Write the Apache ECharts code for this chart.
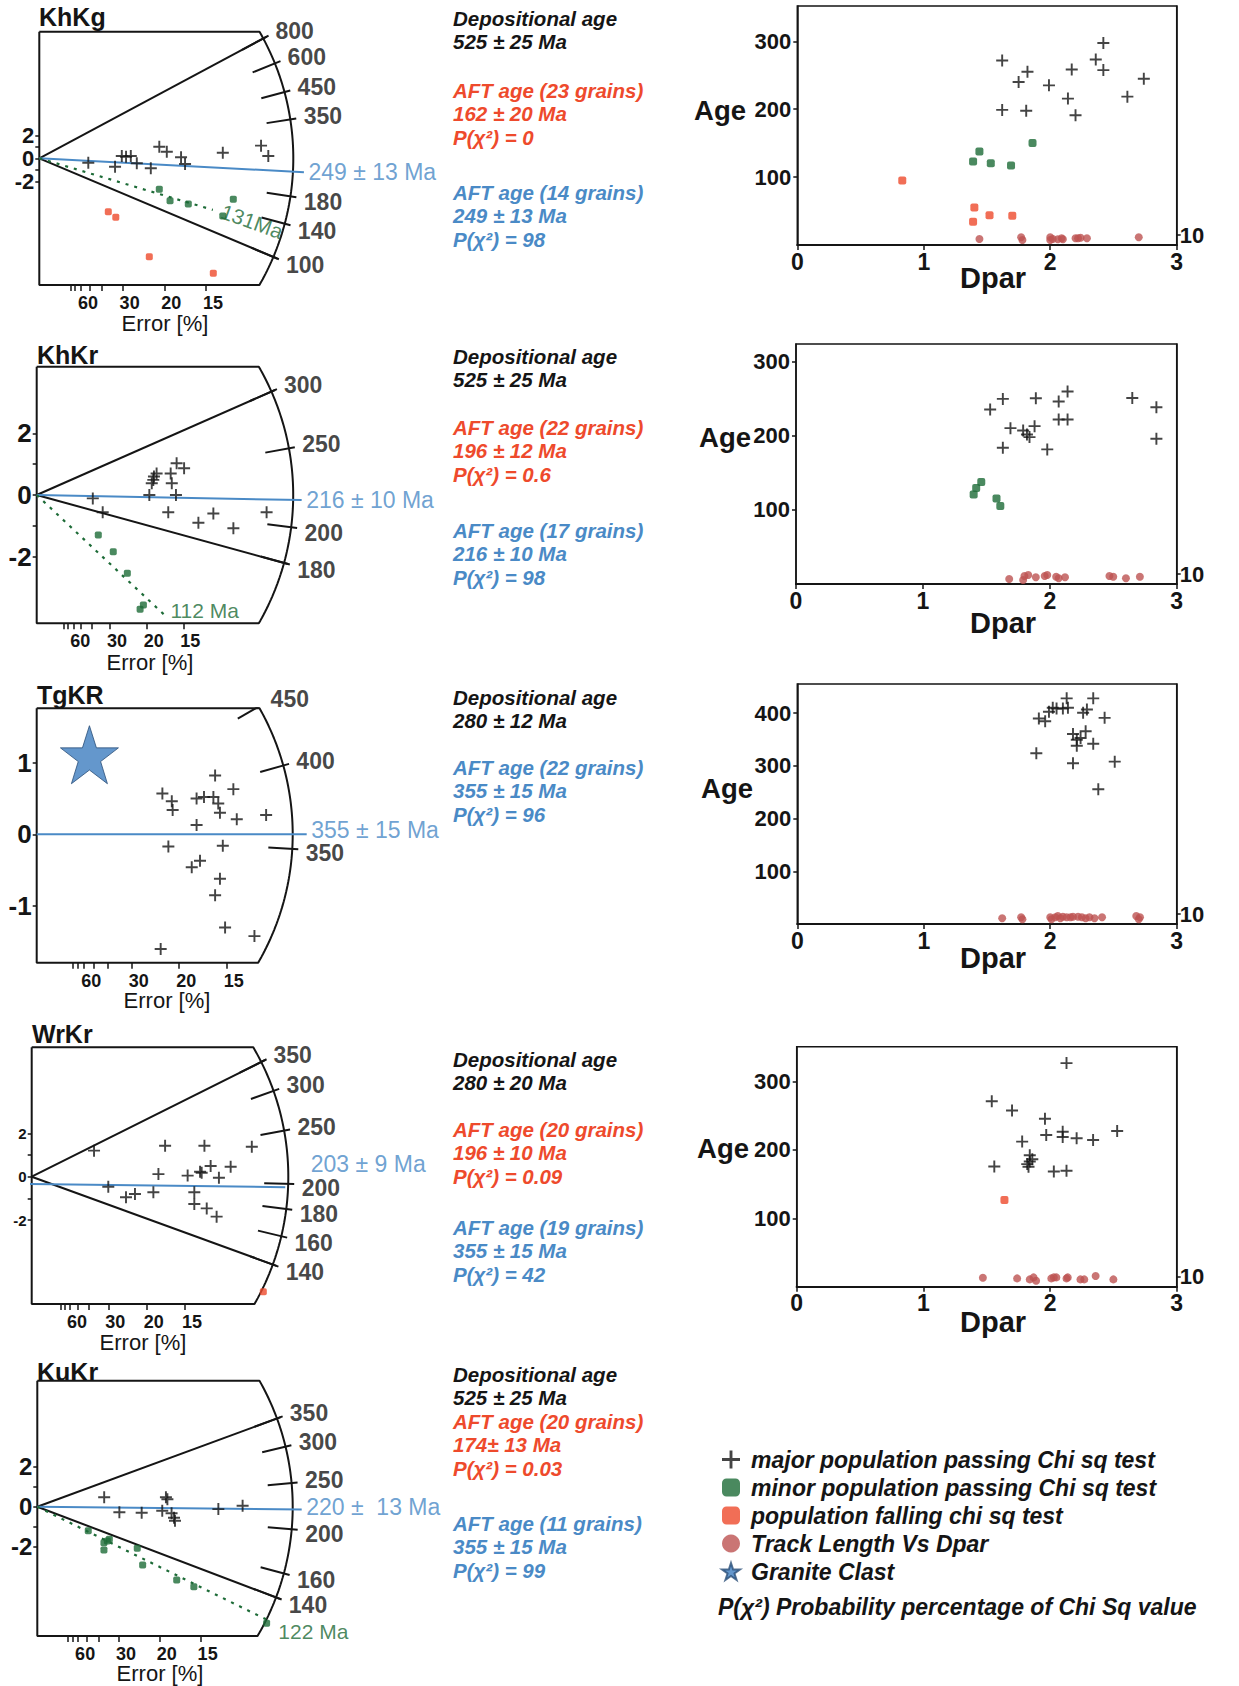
<!DOCTYPE html>
<html><head><meta charset="utf-8">
<script src="https://cdn.jsdelivr.net/npm/echarts@6/dist/echarts.min.js"></script>
<style>html,body{margin:0;padding:0;background:#fff}#c{width:1239px;height:1686px}</style>
</head><body><div id="c"></div><script>
// ================= DATA =================
const radialTitles = ['KhKg','KhKr','TgKR','WrKr','KuKr'];
const radialRefAges = [250,219,358,206,223];           // age of the horizontal (z=0) direction of each radial scale
const arcTickAges = [[800,600,450,350,180,140,100],[300,250,200,180],[450,400,350],[350,300,250,200,180,160,140],[350,300,250,200,160,140]];
const boundaryAges = [[800,100],[300,180],[],[350,140],[350,140]];
const centralLabels = ['249 ± 13 Ma','216 ± 10 Ma','355 ± 15 Ma','203 ± 9 Ma','220 ±  13 Ma'];
const centralLineAges = [223,216,358,203,220];          // where the blue line meets the arc, as drawn
const minorAges = [131,112,null,null,122];
const minorLabels = ['131Ma','112 Ma',null,null,'122 Ma'];
const errTicks = [80,70,60,50,40,30,20,15];
const errLabels = [60,30,20,15];
const zLabels = [[-2,0,2],[-2,0,2],[-1,0,1],[-2,0,2],[-2,0,2]];
const zTicks = [[-2,-1,0,1,2],[-2,-1,0,1,2],[-1,0,1],[-2,-1,0,1,2],[-2,-1,0,1,2]];

// radial plot points: [precision (1/relative error), standardised estimate]
const r1Major = [[1.96,-0.38],[3.03,-0.73],[3.30,0.20],[3.47,0.14],[3.66,0.20],[3.90,-0.43],[4.46,-0.87],[4.80,1.01],[5.10,0.57],[5.67,0.09],[5.83,-0.50],[7.34,0.49],[8.87,1.10],[9.16,0.20]];
const r1Minor = [[4.80,-2.70],[5.23,-3.69],[5.96,-3.97],[7.34,-5.02],[7.76,-3.57]];
const r1Fail  = [[2.76,-4.64],[3.06,-5.13],[4.40,-8.56],[6.96,-10.0]];
const r2Major = [[2.55,-0.11],[3.00,-0.56],[5.12,0.00],[5.23,0.38],[5.33,0.60],[5.45,0.70],[6.09,0.70],[6.14,0.38],[5.98,-0.56],[6.33,0.00],[6.36,1.03],[6.70,0.87],[7.35,-0.90],[8.03,-0.60],[8.94,-1.08],[10.45,-0.56],[5.30,0.49]];
const r2Minor = [[2.80,-1.30],[3.48,-1.84],[4.12,-2.54],[4.70,-3.71],[4.85,-3.57]];
const r3Major = [[4.41,0.57],[4.74,0.46],[4.77,0.34],[4.62,-0.17],[5.44,-0.46],[5.73,-0.37],[5.61,0.50],[5.61,0.13],[5.87,0.52],[6.20,0.52],[6.26,0.82],[6.37,0.43],[6.43,0.30],[6.53,-0.16],[6.43,-0.62],[6.26,-0.85],[6.90,0.63],[7.02,0.21],[8.05,0.27],[6.61,-1.30],[7.64,-1.42],[4.35,-1.60]];
const r3Star  = [[1.85,1.11]];
const r4Major = [[2.71,1.20],[5.80,1.43],[7.51,1.43],[9.57,1.38],[5.51,0.12],[6.78,0.05],[7.32,0.23],[7.39,0.18],[7.78,0.49],[8.14,-0.05],[8.65,0.46],[3.33,-0.46],[4.10,-0.95],[4.49,-0.80],[5.29,-0.72],[7.07,-0.72],[7.07,-1.26],[7.61,-1.46],[8.04,-1.84]];
const r4Fail  = [[10.07,-5.30]];
const r5Major = [[2.73,0.47],[3.35,-0.28],[4.26,-0.30],[5.10,-0.20],[5.25,0.47],[5.31,0.37],[5.48,-0.33],[5.58,-0.55],[5.62,-0.70],[7.39,-0.12],[8.38,0.05]];
const r5Minor = [[2.08,-1.20],[2.72,-1.80],[2.72,-2.17],[2.86,-1.72],[2.94,-1.63],[4.08,-2.08],[4.30,-2.92],[5.69,-3.67],[6.39,-4.00],[9.36,-5.83]];

// Dpar scatter plots: [Dpar, Age] and track points [Dpar, value on right axis]
const s1Major = [[1.62,271.7],[1.82,255.1],[1.75,240.0],[1.99,235.1],[1.62,199.0],[1.81,197.6],[2.17,258.5],[2.14,215.6],[2.20,191.2],[2.36,273.2],[2.42,297.6],[2.42,257.6],[2.61,218.5],[2.74,244.9]];
const s1Minor = [[1.39,122.9],[1.44,137.6],[1.53,120.5],[1.69,117.1],[1.86,150.2]];
const s1Fail  = [[0.83,95.1],[1.40,55.1],[1.39,34.1],[1.52,43.9],[1.70,42.9]];
const s1Track = [[1.44,6.0],[1.77,7.7],[1.78,5.0],[2.00,7.7],[2.00,5.0],[2.02,6.0],[2.06,5.7],[2.09,6.7],[2.10,5.7],[2.20,6.7],[2.22,6.7],[2.24,7.3],[2.29,6.7],[2.70,7.7]];
const s2Major = [[1.53,235.5],[1.63,249.9],[1.69,210.4],[1.79,207.3],[1.82,201.9],[1.84,198.3],[1.88,213.1],[1.89,250.8],[1.63,183.9],[1.98,181.7],[2.07,246.3],[2.07,222.1],[2.14,222.1],[2.14,259.8],[2.65,251.2],[2.84,238.7],[2.84,196.1]];
const s2Minor = [[1.40,120.7],[1.42,129.7],[1.46,137.7],[1.58,115.3],[1.61,105.4]];
const s2Track = [[1.68,5.0],[1.79,4.0],[1.80,8.0],[1.83,9.0],[1.89,6.7],[1.96,8.0],[1.98,9.0],[2.05,7.3],[2.07,5.7],[2.12,6.7],[2.47,8.0],[2.50,7.3],[2.60,5.7],[2.71,7.3]];
const s3Major = [[1.91,389.5],[1.96,384.4],[1.99,402.3],[2.02,410.0],[2.05,408.7],[2.10,408.7],[2.13,427.8],[2.14,410.0],[2.26,400.4],[2.29,406.8],[2.34,427.8],[2.43,390.8],[1.89,323.8],[2.18,360.2],[2.21,349.3],[2.21,337.8],[2.24,352.5],[2.28,365.3],[2.34,341.6],[2.18,304.6],[2.51,307.8],[2.38,255.4]];
const s3Track = [[1.62,5.7],[1.77,6.7],[1.78,4.7],[2.00,6.7],[2.01,4.7],[2.04,6.7],[2.06,8.0],[2.08,5.7],[2.10,7.3],[2.13,6.7],[2.16,6.7],[2.18,7.3],[2.22,7.3],[2.25,6.7],[2.28,5.7],[2.31,6.7],[2.35,5.7],[2.41,6.7],[2.68,8.0],[2.71,6.7],[2.70,4.7]];
const s4Major = [[1.54,271.3],[1.70,257.8],[1.96,245.6],[2.13,327.0],[1.78,212.2],[1.97,221.9],[2.10,226.7],[2.10,219.0],[2.21,217.1],[2.34,214.6],[2.53,227.7],[1.84,192.3],[1.84,183.1],[1.82,179.3],[1.83,175.4],[1.56,175.9],[2.03,168.6],[2.13,169.6],[1.86,186.5]];
const s4Fail  = [[1.64,126.9]];
const s4Track = [[1.47,9.0],[1.74,8.3],[1.84,7.3],[1.87,9.3],[1.89,6.0],[2.01,8.3],[2.03,9.3],[2.05,9.3],[2.13,8.3],[2.14,9.3],[2.24,7.3],[2.27,7.3],[2.36,10.7],[2.50,7.3]];
const scatterAgeTicks = [[100,200,300],[100,200,300],[100,200,300,400],[100,200,300]];
const scatterAgeMax = [352,324,455,351];
const dparTicksInterval = 1;
const trackTick = [10];

const infoTexts = [
 [{k:'dep',t:['Depositional age','525 ± 25 Ma']},{k:'fail',t:['AFT age (23 grains)','162 ± 20 Ma','P(χ²) = 0']},{k:'pass',t:['AFT age (14 grains)','249 ± 13 Ma','P(χ²) = 98']}],
 [{k:'dep',t:['Depositional age','525 ± 25 Ma']},{k:'fail',t:['AFT age (22 grains)','196 ± 12 Ma','P(χ²) = 0.6']},{k:'pass',t:['AFT age (17 grains)','216 ± 10 Ma','P(χ²) = 98']}],
 [{k:'dep',t:['Depositional age','280 ± 12 Ma']},{k:'pass',t:['AFT age (22 grains)','355 ± 15 Ma','P(χ²) = 96']}],
 [{k:'dep',t:['Depositional age','280 ± 20 Ma']},{k:'fail',t:['AFT age (20 grains)','196 ± 10 Ma','P(χ²) = 0.09']},{k:'pass',t:['AFT age (19 grains)','355 ± 15 Ma','P(χ²) = 42']}],
 [{k:'dep',t:['Depositional age','525 ± 25 Ma']},{k:'fail',t:['AFT age (20 grains)','174± 13 Ma','P(χ²) = 0.03']},{k:'pass',t:['AFT age (11 grains)','355 ± 15 Ma','P(χ²) = 99']}]
];
const legendNames = ['major population passing Chi sq test','minor population passing Chi sq test','population falling chi sq test','Track Length Vs Dpar','Granite Clast'];
const legendNote = 'P(χ²) Probability percentage of Chi Sq value';

// ================= LAYOUT / STYLE =================
const FONT = '"Liberation Sans", Arial, Helvetica, sans-serif';
const BLUE='#4a8ac6', RED='#ee4a2c', GREEN='#1d6b37', BROWN='#bd5351', INK='#151515';
const PLUS='path://M0,4.2H4.2V0H5.8V4.2H10V5.8H5.8V10H4.2V5.8H0Z';
const STAR='path://M50,0L61.8,35.3H99L68.9,57.1L80.4,92.4L50,70.6L19.6,92.4L31.1,57.1L1,35.3H38.2Z';
const RL = [
 {ox:39.3, oy:158.3, R:254, up:126.6, down:126.7, sx:25, sy:11.5, zFont:22, title:[39,17], err:[165,323], info:[18,90,192], cEnd:11, cStart:0, cShift:0, cOff:[0,0], gEnd:181, gLab:{r:222, rot:-20}},
 {ox:36.7, oy:495, R:256.5, up:128.3, down:128.3, sx:22, sy:30.8, zFont:26, title:[37,355], err:[150,662], info:[356,427,530], cEnd:8.5, cStart:0, cShift:0, cOff:[0,0], gEnd:180, gLab:{dist:2, off:[0,-8]}},
 {ox:36.7, oy:834.3, R:256, up:126, down:128.4, sx:28.5, sy:71.7, zFont:26, title:[37,695], err:[167,1000], info:[697,767], cEnd:14, cStart:0, cShift:0, cOff:[0,-4]},
 {ox:31.7, oy:1176.7, R:256.6, up:129.4, down:127.3, sx:23, sy:21.7, zFont:15, title:[32,1034], err:[143,1342], info:[1059,1129,1227], cEnd:-3, cStart:-20, cShift:7, cOff:[21,-23]},
 {ox:37.3, oy:1506.7, R:255.4, up:126, down:129.3, sx:24.5, sy:20, zFont:24, title:[37,1372], err:[160,1673], info:[1374,1421,1523], cEnd:9, cStart:0, cShift:0, cOff:[0,-3], gEnd:257, gLab:{dist:10, off:[0,11]}}
];
const SL = [
 {left:797.3, top:6, width:379.4, height:239, age:[720,110], dpar:[993,278]},
 {left:796, top:344, width:380.7, height:240, age:[725,437], dpar:[1003,623]},
 {left:797.3, top:684, width:379.4, height:240, age:[727,788], dpar:[993,958]},
 {left:796.7, top:1046.7, width:380, height:240, age:[723,1148], dpar:[993,1322]}
];
const radialPts = [
 {major:r1Major, minor:r1Minor, fail:r1Fail},
 {major:r2Major, minor:r2Minor},
 {major:r3Major, star:r3Star},
 {major:r4Major, fail:r4Fail},
 {major:r5Major, minor:r5Minor}
];
const scatPts = [
 {major:s1Major, minor:s1Minor, fail:s1Fail, track:s1Track},
 {major:s2Major, minor:s2Minor, track:s2Track},
 {major:s3Major, track:s3Track},
 {major:s4Major, fail:s4Fail, track:s4Track}
];

// ================= BUILD =================
const grids=[], xAxes=[], yAxes=[], series=[], gfx=[];
function dirPt(L, t0, t, r, shift){
  const m = Math.log(t/t0);
  const th = Math.atan2(m*L.sy, L.sx);
  return [r*Math.cos(th)/L.sx, r*Math.sin(th)/L.sy - (shift||0)/L.sy];
}
function labelSeries(gi, yi, data, label){
  return {type:'scatter', xAxisIndex:gi, yAxisIndex:yi, symbol:'circle', symbolSize:1, silent:true, clip:false, z:6,
    itemStyle:{color:'rgba(0,0,0,0)'},
    label:Object.assign({show:true, formatter:p=>p.name, fontFamily:FONT}, label), data};
}
function txt(x,y,text,font,fill,align){
  return {type:'text', x, y, silent:true, style:{text, font, fill, textAlign:align||'left', align:align||'left', textVerticalAlign:'middle', verticalAlign:'middle'}};
}
const INFOCOL = {dep:INK, fail:RED, pass:BLUE};

RL.forEach((L,i)=>{
  const t0 = radialRefAges[i];
  grids.push({left:L.ox, top:L.oy-L.up, width:L.R+40, height:L.up+L.down, outerBoundsMode:'none'});
  xAxes.push({gridIndex:i, type:'value', min:0, max:(L.R+40)/L.sx,
    axisLine:{show:false, onZero:false}, splitLine:{show:false},
    axisTick:{show:true, customValues:errTicks.map(e=>100/e), length:6, lineStyle:{color:INK, width:1.5}},
    axisLabel:{customValues:errLabels.map(e=>100/e), formatter:v=>String(Math.round(100/v)), fontSize:18, fontWeight:'bold', color:INK, margin:9, padding:[0,0,0,14], fontFamily:FONT, hideOverlap:false}});
  yAxes.push({gridIndex:i, type:'value', min:-L.down/L.sy, max:L.up/L.sy,
    axisLine:{show:false, onZero:false}, splitLine:{show:false},
    axisTick:{show:true, customValues:zTicks[i], length:4, lineStyle:{color:INK, width:1.5}},
    axisLabel:{customValues:zLabels[i], fontSize:L.zFont, fontWeight:'bold', color:INK, margin:5, fontFamily:FONT, hideOverlap:false}});
  // frame + arc (the age axis)
  const cx = Math.sqrt(L.R*L.R-L.up*L.up), cxd = Math.sqrt(L.R*L.R-L.down*L.down);
  const frame = [[0,L.up/L.sy],[cx/L.sx,L.up/L.sy]];
  const a0 = Math.asin(L.up/L.R), a1 = -Math.asin(L.down/L.R);
  for(let k=1;k<80;k++){const a=a0+(a1-a0)*k/80; frame.push([L.R*Math.cos(a)/L.sx, L.R*Math.sin(a)/L.sy]);}
  frame.push([cxd/L.sx,-L.down/L.sy],[0,-L.down/L.sy],[0,L.up/L.sy]);
  series.push({type:'line', xAxisIndex:i, yAxisIndex:i, data:frame, symbol:'none', silent:true, clip:false, z:3,
    lineStyle:{color:INK, width:2}});
  // arc ticks
  series.push({type:'lines', coordinateSystem:'cartesian2d', xAxisIndex:i, yAxisIndex:i, silent:true, z:3,
    lineStyle:{color:INK, width:2, opacity:1},
    data:arcTickAges[i].map(t=>({coords:[dirPt(L,t0,t,L.R-24), dirPt(L,t0,t,L.R+6)]}))});
  // boundary lines
  if(boundaryAges[i].length) series.push({type:'lines', coordinateSystem:'cartesian2d', xAxisIndex:i, yAxisIndex:i, silent:true, z:3,
    lineStyle:{color:INK, width:2, opacity:1},
    data:boundaryAges[i].map(t=>({coords:[[0,0], dirPt(L,t0,t,L.R+4)]}))});
  // arc tick labels (nudged away from the horizontal like the reference)
  series.push(labelSeries(i,i, arcTickAges[i].map(t=>({name:String(t), value:dirPt(L,t0,t,L.R+11),
      label:{offset:[0, t<t0 ? 4 : -2]}})),
    {position:'right', distance:2, fontSize:23, fontWeight:'bold', color:INK}));
  // central age line
  const cEndPt = dirPt(L,t0,centralLineAges[i],L.R+L.cEnd,L.cShift);
  const cStartPt = L.cStart ? [L.cStart/L.sx, -L.cShift/L.sy] : [0,0];
  series.push({type:'line', xAxisIndex:i, yAxisIndex:i, data:[cStartPt,cEndPt], symbol:'none', silent:true, clip:false, z:4,
    lineStyle:{color:BLUE, width:2}});
  series.push(labelSeries(i,i,[{name:centralLabels[i], value:cEndPt}],
    {position:'right', distance:4, offset:L.cOff, fontSize:23, color:BLUE}));
  // minor population line
  if(minorAges[i]){
    series.push({type:'line', xAxisIndex:i, yAxisIndex:i, data:[[0,0], dirPt(L,t0,minorAges[i],L.gEnd)], symbol:'none', silent:true, clip:false, z:4,
      lineStyle:{color:GREEN, width:2.2, type:[3,6]}});
    const g = L.gLab;
    if(g.rot!==undefined){
      series.push(labelSeries(i,i,[{name:minorLabels[i], value:dirPt(L,t0,minorAges[i],g.r)}],
        {position:'inside', rotate:g.rot, fontSize:21, color:GREEN}));
    } else {
      series.push(labelSeries(i,i,[{name:minorLabels[i], value:dirPt(L,t0,minorAges[i],L.gEnd)}],
        {position:'right', distance:g.dist, offset:g.off, fontSize:21, color:GREEN}));
    }
  }
  const P = radialPts[i];
  if(P.major) series.push({name:legendNames[0], type:'scatter', xAxisIndex:i, yAxisIndex:i, data:P.major, symbol:PLUS, symbolSize:12, itemStyle:{color:INK}, z:5});
  if(P.minor) series.push({name:legendNames[1], type:'scatter', xAxisIndex:i, yAxisIndex:i, data:P.minor, symbol:'roundRect', symbolSize:7, itemStyle:{color:GREEN}, z:5});
  if(P.fail) series.push({name:legendNames[2], type:'scatter', xAxisIndex:i, yAxisIndex:i, data:P.fail, symbol:'roundRect', symbolSize:7, itemStyle:{color:RED}, z:5});
  if(P.star) series.push({name:legendNames[4], type:'scatter', xAxisIndex:i, yAxisIndex:i, data:P.star, symbol:STAR, symbolSize:58, itemStyle:{color:'#3d7dbf', borderColor:'#2b4f78', borderWidth:1}, z:5});
  // texts
  gfx.push(txt(L.title[0], L.title[1], radialTitles[i], 'bold 25px '+FONT, INK));
  gfx.push(txt(L.err[0], L.err[1], 'Error [%]', '22px '+FONT, INK, 'center'));
  infoTexts[i].forEach((grp,gi)=>{
    grp.t.forEach((line,li)=>{
      gfx.push(txt(453, L.info[gi]+li*23.5, line, 'italic bold 20.5px '+FONT, INFOCOL[grp.k]));
    });
  });
});

SL.forEach((S,j)=>{
  const gi = 5+j, yr = 9+j;
  grids.push({left:S.left, top:S.top, width:S.width, height:S.height, show:true, borderColor:INK, borderWidth:1.5, outerBoundsMode:'none'});
  xAxes.push({gridIndex:gi, type:'value', min:0, max:3, interval:dparTicksInterval,
    axisLine:{onZero:false, lineStyle:{color:INK, width:2.2}}, splitLine:{show:false},
    axisTick:{length:5, lineStyle:{color:INK, width:1.5}},
    axisLabel:{fontSize:23, fontWeight:'bold', color:INK, margin:5, fontFamily:FONT}});
  yAxes[gi] = {gridIndex:gi, type:'value', min:0, max:scatterAgeMax[j],
    axisLine:{show:true, onZero:false, lineStyle:{color:INK, width:1.5}}, splitLine:{show:false},
    axisTick:{customValues:scatterAgeTicks[j], length:4, lineStyle:{color:INK, width:1.5}},
    axisLabel:{customValues:scatterAgeTicks[j], fontSize:22, fontWeight:'bold', color:INK, margin:6, fontFamily:FONT}};
  yAxes[yr] = {gridIndex:gi, type:'value', position:'right', min:0, max:S.height,
    axisLine:{show:true, onZero:false, lineStyle:{color:INK, width:1.5}}, splitLine:{show:false},
    axisTick:{customValues:trackTick, length:4, lineStyle:{color:INK, width:1.5}},
    axisLabel:{customValues:trackTick, fontSize:22, fontWeight:'bold', color:INK, margin:3, fontFamily:FONT}};
  const P = scatPts[j];
  if(P.track) series.push({name:legendNames[3], type:'scatter', xAxisIndex:gi, yAxisIndex:yr, data:P.track, symbol:'circle', symbolSize:8, itemStyle:{color:BROWN}, z:4});
  if(P.major) series.push({name:legendNames[0], type:'scatter', xAxisIndex:gi, yAxisIndex:gi, data:P.major, symbol:PLUS, symbolSize:12, itemStyle:{color:INK}, z:5});
  if(P.minor) series.push({name:legendNames[1], type:'scatter', xAxisIndex:gi, yAxisIndex:gi, data:P.minor, symbol:'roundRect', symbolSize:8, itemStyle:{color:GREEN}, z:5});
  if(P.fail) series.push({name:legendNames[2], type:'scatter', xAxisIndex:gi, yAxisIndex:gi, data:P.fail, symbol:'roundRect', symbolSize:8, itemStyle:{color:RED}, z:5});
  gfx.push(txt(S.age[0], S.age[1], 'Age', 'bold 27.5px '+FONT, INK, 'center'));
  gfx.push(txt(S.dpar[0], S.dpar[1], 'Dpar', 'bold 29px '+FONT, INK, 'center'));
});
gfx.push(txt(718, 1607, legendNote, 'italic bold 23px '+FONT, INK));

const chart = echarts.init(document.getElementById('c'), null, {renderer:'svg', width:1239, height:1686});
chart.setOption({
  animation:false,
  backgroundColor:'#fff',
  textStyle:{fontFamily:FONT},
  grid:grids, xAxis:xAxes, yAxis:yAxes, series,
  legend:{orient:'vertical', left:716, top:1443, itemWidth:18, itemHeight:18, itemGap:5, selectedMode:false,
    textStyle:{fontSize:23, fontWeight:'bold', fontStyle:'italic', color:INK, fontFamily:FONT, padding:[0,0,0,6]},
    data:[{name:legendNames[0], icon:PLUS},{name:legendNames[1], icon:'roundRect'},{name:legendNames[2], icon:'roundRect'},{name:legendNames[3], icon:'circle'},{name:legendNames[4], icon:STAR}]},
  graphic:{elements:gfx}
});
</script></body></html>
